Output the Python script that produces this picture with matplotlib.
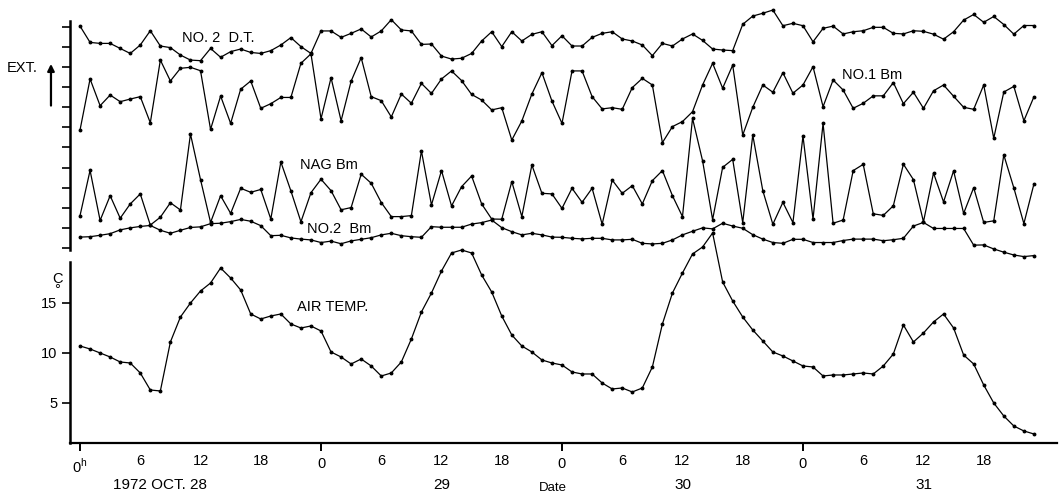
import numpy as np
import matplotlib.pyplot as plt

plt.rcParams['font.family'] = ['Liberation Sans', 'DejaVu Sans']
plt.rcParams['mathtext.fontset'] = 'custom'
plt.rcParams['mathtext.rm'] = 'Liberation Sans'

# hourly readings, 1972 Oct 28 0h .. Oct 31 23h
hours = np.arange(96)

# extinction traces (arbitrary units, one unit per tick on the upper scale)
no2_dt = [11.04, 10.23, 10.18, 10.18, 9.93, 9.68, 10.10, 10.81, 10.05, 9.97,
          9.60, 9.35, 9.32, 9.93, 9.49, 9.77, 9.90, 9.73, 9.68, 9.82,
          10.10, 10.47, 10.02, 9.68, 10.80, 10.80, 10.48, 10.68, 10.90, 10.50,
          10.80, 11.36, 10.85, 10.80, 10.13, 10.15, 9.55, 9.40, 9.44, 9.68,
          10.30, 10.76, 10.02, 10.76, 10.30, 10.63, 10.76, 10.07, 10.56, 10.05,
          10.05, 10.48, 10.68, 10.76, 10.40, 10.30, 10.10, 9.57, 10.18, 10.05,
          10.40, 10.65, 10.33, 9.90, 9.85, 9.82, 11.13, 11.54, 11.68, 11.84,
          11.06, 11.18, 11.06, 10.26, 10.93, 11.04, 10.65, 10.76, 10.81, 10.98,
          10.98, 10.68, 10.65, 10.81, 10.78, 10.64, 10.39, 10.76, 11.34, 11.62,
          11.23, 11.52, 11.12, 10.64, 11.07, 11.07]

no1_bm = [5.87, 8.41, 7.08, 7.61, 7.28, 7.41, 7.53, 6.23, 9.35, 8.31,
          8.94, 8.99, 8.82, 5.90, 7.56, 6.20, 7.90, 8.31, 6.95, 7.18,
          7.49, 7.49, 9.19, 9.66, 6.43, 8.47, 6.33, 8.30, 9.47, 7.53,
          7.33, 6.52, 7.66, 7.20, 8.19, 7.69, 8.41, 8.81, 8.33, 7.64,
          7.36, 6.87, 6.98, 5.37, 6.32, 7.66, 8.72, 7.31, 6.20, 8.81,
          8.81, 7.53, 6.92, 6.98, 6.90, 7.98, 8.44, 8.11, 5.24, 6.04,
          6.29, 6.78, 8.11, 9.19, 7.95, 9.10, 5.62, 7.00, 8.11, 7.75,
          8.72, 7.70, 8.11, 9.02, 7.03, 8.36, 7.86, 6.95, 7.20, 7.57,
          7.57, 8.23, 7.18, 7.75, 6.95, 7.82, 8.11, 7.55, 7.00, 6.90,
          8.11, 5.46, 7.76, 8.04, 6.33, 7.52]

nag_bm = [1.61, 3.86, 1.37, 2.60, 1.48, 2.19, 2.69, 1.14, 1.53, 2.25,
          1.89, 5.67, 3.40, 1.27, 2.60, 1.72, 2.97, 2.77, 2.91, 1.44,
          4.28, 2.84, 1.30, 2.75, 3.42, 2.85, 1.90, 2.01, 3.67, 3.22,
          2.26, 1.56, 1.56, 1.61, 4.83, 2.14, 3.85, 2.09, 3.05, 3.58,
          2.19, 1.44, 1.43, 3.30, 1.56, 4.13, 2.72, 2.69, 1.97, 2.97,
          2.27, 2.97, 1.18, 3.38, 2.72, 3.10, 2.19, 3.35, 3.85, 2.60,
          1.56, 6.45, 4.34, 1.41, 4.01, 4.41, 1.26, 5.62, 2.85, 1.18,
          2.27, 1.26, 5.57, 1.44, 6.20, 1.23, 1.39, 3.85, 4.16, 1.70,
          1.62, 2.10, 4.17, 3.40, 1.30, 3.73, 2.29, 3.84, 1.72, 3.00,
          1.27, 1.35, 4.63, 2.99, 1.21, 3.18]

no2_bm = [0.54, 0.56, 0.63, 0.71, 0.90, 1.00, 1.07, 1.12, 0.88, 0.73,
          0.88, 1.02, 1.05, 1.21, 1.23, 1.31, 1.42, 1.33, 1.11, 0.61,
          0.63, 0.50, 0.44, 0.40, 0.27, 0.34, 0.21, 0.35, 0.43, 0.51,
          0.65, 0.73, 0.61, 0.56, 0.53, 1.06, 1.03, 1.03, 1.03, 1.19,
          1.26, 1.39, 1.01, 0.81, 0.65, 0.73, 0.65, 0.54, 0.53, 0.48,
          0.45, 0.48, 0.48, 0.40, 0.40, 0.43, 0.23, 0.20, 0.23, 0.40,
          0.65, 0.83, 1.00, 0.95, 1.23, 1.09, 0.98, 0.66, 0.44, 0.27,
          0.23, 0.43, 0.43, 0.27, 0.27, 0.27, 0.37, 0.44, 0.44, 0.44,
          0.36, 0.41, 0.48, 1.09, 1.27, 0.97, 0.97, 0.97, 0.97, 0.14,
          0.15, -0.05, -0.21, -0.35, -0.43, -0.38]

# air temperature, deg C
air_temp = [10.7, 10.4, 10.0, 9.6, 9.1, 9.0, 8.0, 6.3, 6.2, 11.1,
            13.6, 15.0, 16.2, 17.0, 18.5, 17.5, 16.3, 13.9, 13.4, 13.7,
            13.9, 12.9, 12.5, 12.7, 12.2, 10.1, 9.6, 8.9, 9.4, 8.7,
            7.7, 8.0, 9.1, 11.4, 14.1, 16.0, 18.2, 20.0, 20.3, 20.0,
            17.8, 16.1, 13.7, 11.8, 10.7, 10.1, 9.3, 9.0, 8.8, 8.1,
            7.9, 7.9, 7.0, 6.4, 6.5, 6.1, 6.5, 8.6, 12.9, 16.0,
            18.0, 19.9, 20.6, 22.0, 17.1, 15.2, 13.6, 12.3, 11.2, 10.1,
            9.7, 9.2, 8.7, 8.6, 7.7, 7.8, 7.8, 7.9, 8.0, 7.9,
            8.7, 9.9, 12.8, 11.1, 12.0, 13.1, 13.9, 12.5, 9.8, 8.9,
            6.8, 5.0, 3.7, 2.7, 2.2, 1.9]

day_ticks = [0, 24, 48, 72]
day_labels = ['0$^{\\mathrm{h}}$', '0', '0', '0']
hour_ticks = [h for h in range(6, 96, 6) if h % 24]
hour_labels = [str(h % 24) for h in hour_ticks]
date_pos = [8, 36, 60, 84]
date_labels = ['1972 OCT. 28', '29', '30', '31']

fig = plt.figure(figsize=(10.62, 4.97), dpi=100)
ax_lo = fig.add_axes([0.0659, 0.1087, 0.9294, 0.4386])
ax_up = fig.add_axes([0.0659, 0.4728, 0.9294, 0.5171])

line_kw = dict(color='black', lw=0.9, marker='o', ms=1.8, clip_on=False)

for series in (no2_dt, no1_bm, nag_bm, no2_bm):
    ax_up.plot(hours, series, **line_kw)
ax_lo.plot(hours, air_temp, **line_kw)

for ax in (ax_up, ax_lo):
    ax.set_xlim(-1.0, 97.3)
    ax.patch.set_alpha(0)
    for side in ('top', 'right'):
        ax.spines[side].set_visible(False)
    ax.spines['left'].set_linewidth(1.8)

# upper panel: extinction scale, no numbers
ax_up.spines['bottom'].set_visible(False)
ax_up.set_ylim(-0.70, 12.09)
ax_up.spines['left'].set_bounds(-0.1, 11.3)
ax_up.set_yticks(range(12))
ax_up.set_yticklabels([])
ax_up.tick_params(axis='y', length=6, width=1.2, direction='out')
ax_up.set_xticks([])

ax_up.text(10.2, 10.45, 'NO. 2  D.T.', fontsize=10.5, va='center')
ax_up.text(75.9, 8.6, 'NO.1 Bm', fontsize=10.5, va='center')
ax_up.text(21.9, 4.13, 'NAG Bm', fontsize=10.5, va='center')
ax_up.text(22.6, 0.95, 'NO.2  Bm', fontsize=10.5, va='center')

fig.text(0.0066, 0.863, 'EXT.', fontsize=10.5, va='center')
fig.add_artist(plt.Annotation('', xy=(0.048, 0.877), xytext=(0.048, 0.782),
                              xycoords='figure fraction',
                              arrowprops=dict(arrowstyle='-|>', color='black',
                                              lw=1.6, mutation_scale=10)))

# lower panel: air temperature
ax_lo.set_ylim(1.0, 22.8)
ax_lo.spines['left'].set_bounds(1.0, 19.1)
ax_lo.spines['bottom'].set_linewidth(1.6)
ax_lo.set_yticks([5, 10, 15])
ax_lo.tick_params(axis='y', length=6, width=1.2, labelsize=10.5, pad=3)

ax_lo.set_xticks(day_ticks)
ax_lo.set_xticklabels(day_labels)
ax_lo.set_xticks(hour_ticks, minor=True)
ax_lo.set_xticklabels(hour_labels, minor=True)
ax_lo.tick_params(axis='x', which='major', length=6, width=1.4,
                  labelsize=10.5, pad=4)
ax_lo.tick_params(axis='x', which='minor', length=0, labelsize=10.5, pad=8)

ax_lo.text(21.6, 14.6, 'AIR TEMP.', fontsize=10.5, va='center')
# unit mark: C with a small degree circle underneath
fig.text(0.0537, 0.428, 'C\n°', fontsize=10.5, ha='center', va='center',
         linespacing=0.75)

xt = ax_lo.get_xaxis_transform()
for pos, lab in zip(date_pos, date_labels):
    ax_lo.text(pos, -0.193, lab, transform=xt, fontsize=11, ha='center',
               va='center')
ax_lo.text(47.1, -0.205, 'Date', transform=xt, fontsize=9.5, ha='center',
           va='center')

fig.savefig('out.png', dpi=100)
